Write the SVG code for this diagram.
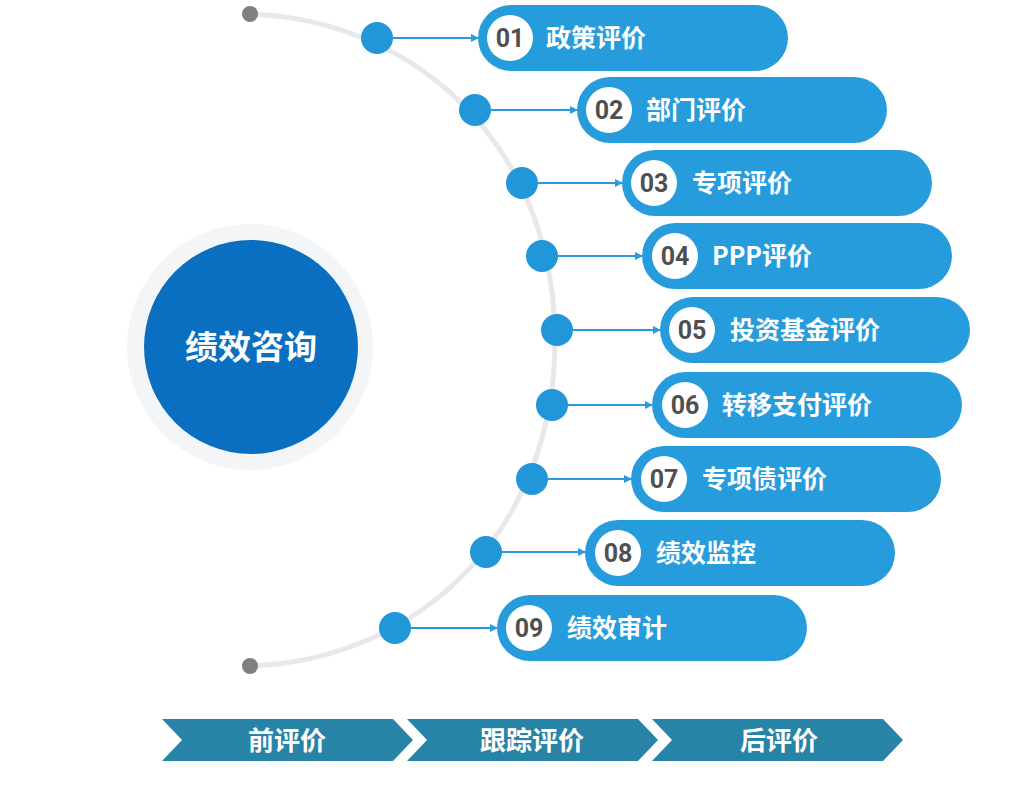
<svg xmlns="http://www.w3.org/2000/svg" width="1024" height="803" viewBox="0 0 1024 803">
<defs>
<style>
.pill{fill:#279cdc}
.dot{fill:#2196d9}
.num-bg{fill:#ffffff}
.num{font-family:Roboto,"Liberation Sans",sans-serif;font-weight:bold;font-size:25px;fill:#4f4f4f;text-anchor:middle}
.lbl{font-family:"Noto Sans CJK SC","Noto Sans",sans-serif;font-weight:bold;font-size:25px;fill:#ffffff}
.conn{stroke:#279cdc;stroke-width:2;fill:none}
.chev{fill:#2884a6}
.chev-t{font-family:"Noto Sans CJK SC",sans-serif;font-weight:bold;font-size:26px;fill:#ffffff;text-anchor:middle}
</style>
<marker id="arr" viewBox="0 0 8 8" refX="7" refY="4" markerWidth="8" markerHeight="8" markerUnits="userSpaceOnUse" orient="auto">
<path d="M0,0 L8,4 L0,8 Z" fill="#279cdc"/>
</marker>
</defs>
<rect width="1024" height="803" fill="#ffffff"/>
<g id="arc">
<path d="M250,14 C420,20 555,150 555,340 C555,530 420,660 250,666" fill="none" stroke="#e8e8ea" stroke-width="5"/>
<circle cx="250" cy="14" r="8" fill="#7f7f7f"/>
<circle cx="250" cy="666" r="8" fill="#7f7f7f"/>
</g>
<g id="center">
<circle cx="250" cy="347" r="123" fill="#f3f5f7"/>
<circle cx="251" cy="347" r="107" fill="#0a6fc1"/>
<text x="251" y="359" font-family="'Noto Sans CJK SC',sans-serif" font-weight="bold" font-size="33" fill="#ffffff" text-anchor="middle">绩效咨询</text>
</g>
<g id="connectors">
<line class="conn" x1="393" y1="38" x2="478" y2="38" marker-end="url(#arr)"/>
<line class="conn" x1="491" y1="110" x2="577" y2="110" marker-end="url(#arr)"/>
<line class="conn" x1="538" y1="183" x2="622" y2="183" marker-end="url(#arr)"/>
<line class="conn" x1="558" y1="256" x2="642" y2="256" marker-end="url(#arr)"/>
<line class="conn" x1="573" y1="330" x2="660" y2="330" marker-end="url(#arr)"/>
<line class="conn" x1="568" y1="405" x2="652" y2="405" marker-end="url(#arr)"/>
<line class="conn" x1="548" y1="479" x2="631" y2="479" marker-end="url(#arr)"/>
<line class="conn" x1="502" y1="552" x2="585" y2="552" marker-end="url(#arr)"/>
<line class="conn" x1="411" y1="628" x2="497" y2="628" marker-end="url(#arr)"/>
</g>
<g id="item01"><circle class="dot" cx="377" cy="38" r="16"/><rect class="pill" x="478" y="5" width="310" height="66" rx="33"/><circle class="num-bg" cx="510" cy="38" r="23"/><text class="num" x="510" y="47">01</text><text class="lbl" x="546" y="47">政策评价</text></g>
<g id="item02"><circle class="dot" cx="475" cy="110" r="16"/><rect class="pill" x="577" y="77" width="310" height="66" rx="33"/><circle class="num-bg" cx="609" cy="110" r="23"/><text class="num" x="609" y="119">02</text><text class="lbl" x="646" y="119">部门评价</text></g>
<g id="item03"><circle class="dot" cx="522" cy="183" r="16"/><rect class="pill" x="622" y="150" width="310" height="66" rx="33"/><circle class="num-bg" cx="654" cy="183" r="23"/><text class="num" x="654" y="192">03</text><text class="lbl" x="692" y="192">专项评价</text></g>
<g id="item04"><circle class="dot" cx="542" cy="256" r="16"/><rect class="pill" x="642" y="223" width="310" height="66" rx="33"/><circle class="num-bg" cx="675" cy="256" r="23"/><text class="num" x="675" y="265">04</text><text class="lbl" x="712" y="265">PPP评价</text></g>
<g id="item05"><circle class="dot" cx="557" cy="330" r="16"/><rect class="pill" x="660" y="297" width="310" height="66" rx="33"/><circle class="num-bg" cx="692" cy="330" r="23"/><text class="num" x="692" y="339">05</text><text class="lbl" x="730" y="339">投资基金评价</text></g>
<g id="item06"><circle class="dot" cx="552" cy="405" r="16"/><rect class="pill" x="652" y="372" width="310" height="66" rx="33"/><circle class="num-bg" cx="685" cy="405" r="23"/><text class="num" x="685" y="414">06</text><text class="lbl" x="722" y="414">转移支付评价</text></g>
<g id="item07"><circle class="dot" cx="532" cy="479" r="16"/><rect class="pill" x="631" y="446" width="310" height="66" rx="33"/><circle class="num-bg" cx="664" cy="479" r="23"/><text class="num" x="664" y="488">07</text><text class="lbl" x="702" y="488">专项债评价</text></g>
<g id="item08"><circle class="dot" cx="486" cy="552" r="16"/><rect class="pill" x="585" y="520" width="310" height="66" rx="33"/><circle class="num-bg" cx="618" cy="553" r="23"/><text class="num" x="618" y="562">08</text><text class="lbl" x="656" y="562">绩效监控</text></g>
<g id="item09"><circle class="dot" cx="395" cy="628" r="16"/><rect class="pill" x="497" y="595" width="310" height="66" rx="33"/><circle class="num-bg" cx="529" cy="628" r="23"/><text class="num" x="529" y="637">09</text><text class="lbl" x="567" y="637">绩效审计</text></g>
<g id="stage1"><path class="chev" d="M162,719 L393,719 L413,740 L393,761 L162,761 L182,740 Z"/><text class="chev-t" x="287" y="750">前评价</text></g>
<g id="stage2"><path class="chev" d="M407,719 L638,719 L658,740 L638,761 L407,761 L427,740 Z"/><text class="chev-t" x="532" y="750">跟踪评价</text></g>
<g id="stage3"><path class="chev" d="M652,719 L883,719 L903,740 L883,761 L652,761 L672,740 Z"/><text class="chev-t" x="779" y="750">后评价</text></g>
</svg>
